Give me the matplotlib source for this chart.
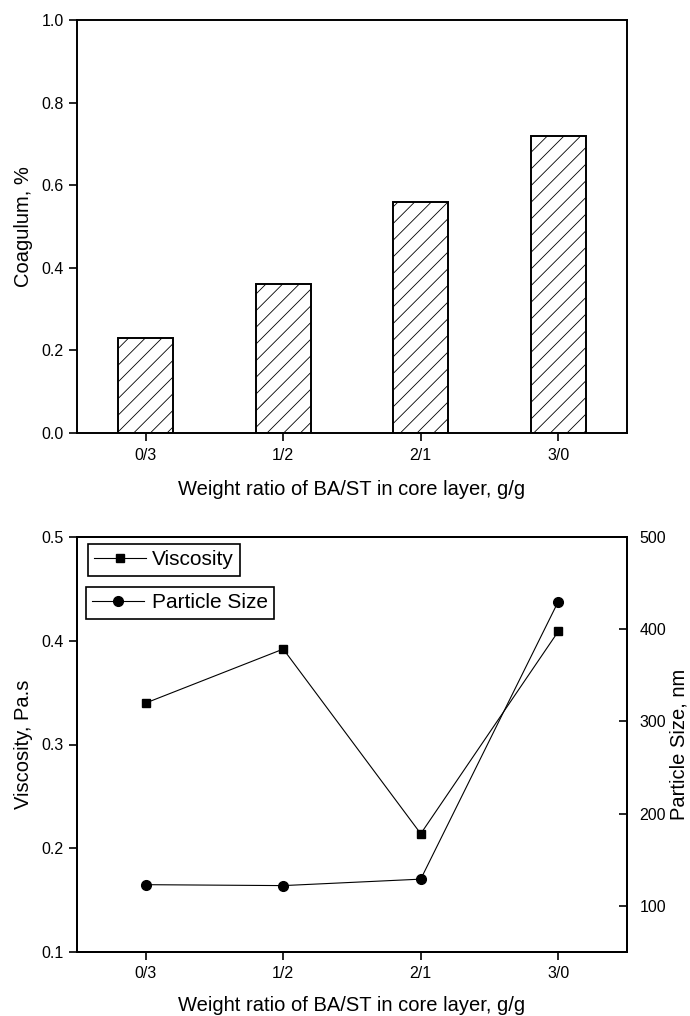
import matplotlib
matplotlib.use("Agg")
import matplotlib.pyplot as plt

plt.rcParams['font.family'] = ['Liberation Sans', 'DejaVu Sans']
plt.rcParams['hatch.linewidth'] = 0.6

categories = ['0/3', '1/2', '2/1', '3/0']
coagulum = [0.23, 0.36, 0.56, 0.72]
viscosity = [0.340, 0.392, 0.214, 0.409]
particle_size = [123, 122, 129, 430]
xlabel = 'Weight ratio of BA/ST in core layer, g/g'

LABEL_FS = 14.5
TICK_FS = 11.5

fig = plt.figure(figsize=(6.9, 10.16), dpi=100)

# ---- Top chart ----
ax1 = fig.add_axes([77/690, 1-433/1016, 550/690, 413/1016])
x = list(range(len(categories)))
ax1.bar(x, coagulum, width=0.4, color='white', edgecolor='black',
        linewidth=1.4, hatch='//')
ax1.set_xlim(-0.5, 3.5)
ax1.set_ylim(0, 1.0)
ax1.set_xticks(x)
ax1.set_xticklabels(categories)
ax1.set_yticks([0.0, 0.2, 0.4, 0.6, 0.8, 1.0])
ax1.set_yticklabels(['0.0', '0.2', '0.4', '0.6', '0.8', '1.0'])
ax1.tick_params(axis='both', direction='out', length=6, width=1.2, labelsize=TICK_FS)
ax1.tick_params(axis='x', pad=5)
ax1.set_ylabel('Coagulum, %', fontsize=LABEL_FS, labelpad=6)
ax1.set_xlabel(xlabel, fontsize=LABEL_FS, labelpad=12)
for s in ax1.spines.values():
    s.set_linewidth(1.4)

# ---- Bottom chart ----
ax2 = fig.add_axes([77/690, 1-952/1016, 550/690, 415/1016])
l1, = ax2.plot(x, viscosity, color='black', linewidth=0.8, marker='s',
               markersize=6, label='Viscosity')
ax2.set_xlim(-0.5, 3.5)
ax2.set_ylim(0.1, 0.5)
ax2.set_xticks(x)
ax2.set_xticklabels(categories)
ax2.set_yticks([0.1, 0.2, 0.3, 0.4, 0.5])
ax2.set_yticklabels(['0.1', '0.2', '0.3', '0.4', '0.5'])
ax2.tick_params(axis='both', direction='out', length=6, width=1.2, labelsize=TICK_FS)
ax2.tick_params(axis='x', pad=4)
ax2.set_ylabel('Viscosity, Pa.s', fontsize=LABEL_FS, labelpad=6)
ax2.set_xlabel(xlabel, fontsize=LABEL_FS, labelpad=11)
for s in ax2.spines.values():
    s.set_linewidth(1.4)

ax3 = ax2.twinx()
l2, = ax3.plot(x, particle_size, color='black', linewidth=0.8, marker='o',
               markersize=7, label='Particle Size')
ax3.set_ylim(50, 500)
ax3.set_yticks([100, 200, 300, 400, 500])
ax3.tick_params(axis='y', direction='in', length=6, width=1.2, labelsize=TICK_FS, pad=9)
ax3.set_ylabel('Particle Size, nm', fontsize=LABEL_FS, labelpad=2)
for s in ax3.spines.values():
    s.set_linewidth(1.4)

leg_kw = dict(loc='upper left', fontsize=15, handlelength=2.5,
              fancybox=False, edgecolor='black', framealpha=1,
              borderpad=0.3, borderaxespad=0)
leg1 = ax3.legend(handles=[l1], bbox_to_anchor=(0.02, 0.983),
                  handletextpad=0.25, **leg_kw)
leg1.get_frame().set_linewidth(1.2)
ax3.add_artist(leg1)
leg2 = ax3.legend(handles=[l2], bbox_to_anchor=(0.0164, 0.8795),
                  handletextpad=0.35, **leg_kw)
leg2.get_frame().set_linewidth(1.2)

fig.savefig('out.png', dpi=100)
